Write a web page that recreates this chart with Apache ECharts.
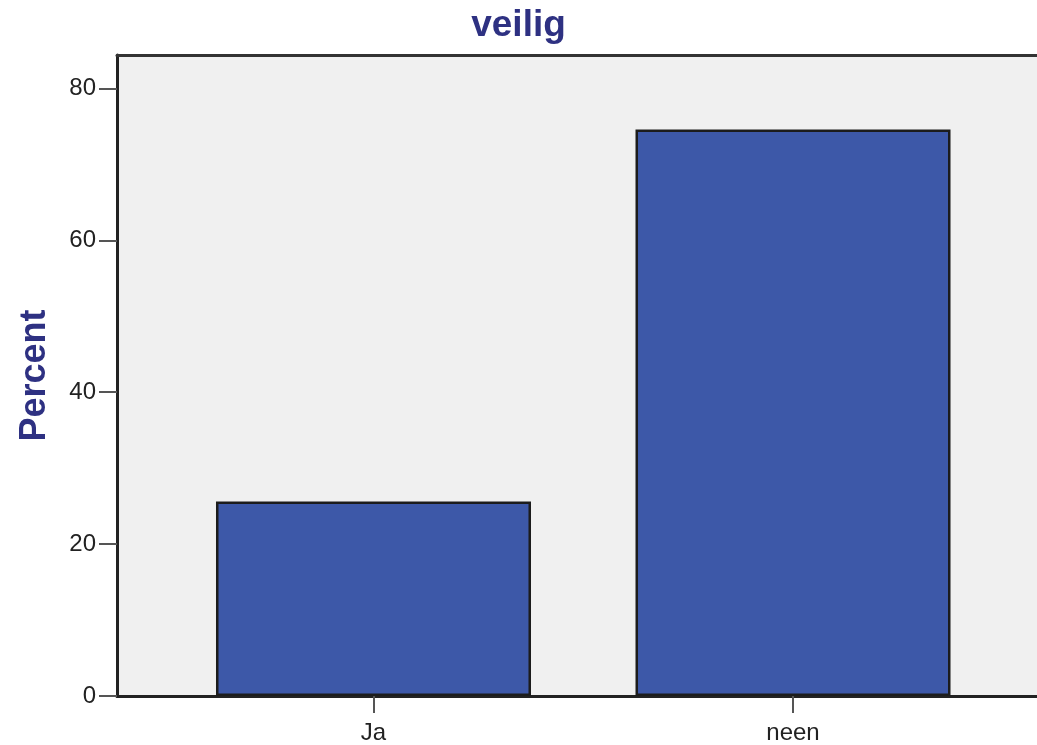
<!DOCTYPE html>
<html>
<head>
<meta charset="utf-8">
<script src="https://cdn.jsdelivr.net/npm/echarts@6/dist/echarts.min.js"></script>
<style>
html,body{margin:0;padding:0;background:#ffffff;}
#chart{width:1037px;height:745px;}
</style>
</head>
<body>
<div id="chart"></div>
<script>
const categories = ['Ja', 'neen'];
const percentValues = [25.6, 74.6];
const yTickValues = [0, 20, 40, 60, 80];

const chart = echarts.init(document.getElementById('chart'), null, {renderer: 'canvas'});
const FONT = '"Liberation Sans", Arial, Helvetica, sans-serif';
const catIndex = categories.map((c, i) => i);
const X_MIN = -0.6114, X_MAX = 1.5816;

chart.setOption({
  animation: false,
  backgroundColor: '#ffffff',
  title: {
    text: 'veilig',
    left: 'center',
    top: 2,
    textStyle: {fontFamily: FONT, fontSize: 37, fontWeight: 'bold', color: '#2e3182'}
  },
  grid: {
    left: 117, right: 0, top: 55, bottom: 47.5,
    show: true, backgroundColor: '#f0f0f0',
    borderWidth: 0,
    containLabel: false
  },
  xAxis: [{
    type: 'value',
    min: X_MIN, max: X_MAX,
    splitLine: {show: false},
    axisLine: {show: true, onZero: false, lineStyle: {color: '#222222', width: 3}},
    axisTick: {show: true, length: 17, customValues: catIndex, lineStyle: {color: '#555555', width: 2}},
    axisLabel: {
      customValues: catIndex,
      margin: 25,
      fontFamily: FONT, fontSize: 24, color: '#222222',
      formatter: v => categories[Math.round(v)] || ''
    }
  }, {
    type: 'value',
    position: 'top',
    min: X_MIN, max: X_MAX,
    splitLine: {show: false},
    axisLine: {show: true, onZero: false, lineStyle: {color: '#333333', width: 3}},
    axisTick: {show: false},
    axisLabel: {show: false}
  }],
  yAxis: {
    type: 'value',
    min: 0, max: 84.4,
    name: 'Percent',
    nameLocation: 'middle',
    nameGap: 64,
    nameRotate: 90,
    nameTextStyle: {fontFamily: FONT, fontSize: 36, fontWeight: 'bold', color: '#2e3182'},
    splitLine: {show: false},
    axisLine: {show: true, onZero: false, lineStyle: {color: '#222222', width: 3}},
    axisTick: {show: true, length: 18, customValues: yTickValues, lineStyle: {color: '#555555', width: 2}},
    axisLabel: {
      customValues: yTickValues,
      margin: 21,
      fontFamily: FONT, fontSize: 24, color: '#222222'
    }
  },
  series: [{
    type: 'bar',
    xAxisIndex: 0,
    barWidth: 315,
    data: percentValues.map((v, i) => [i, v]),
    itemStyle: {color: '#3d58a8', borderColor: '#1c1c1c', borderWidth: 2.5},
    z: 3
  }]
});
</script>
</body>
</html>
